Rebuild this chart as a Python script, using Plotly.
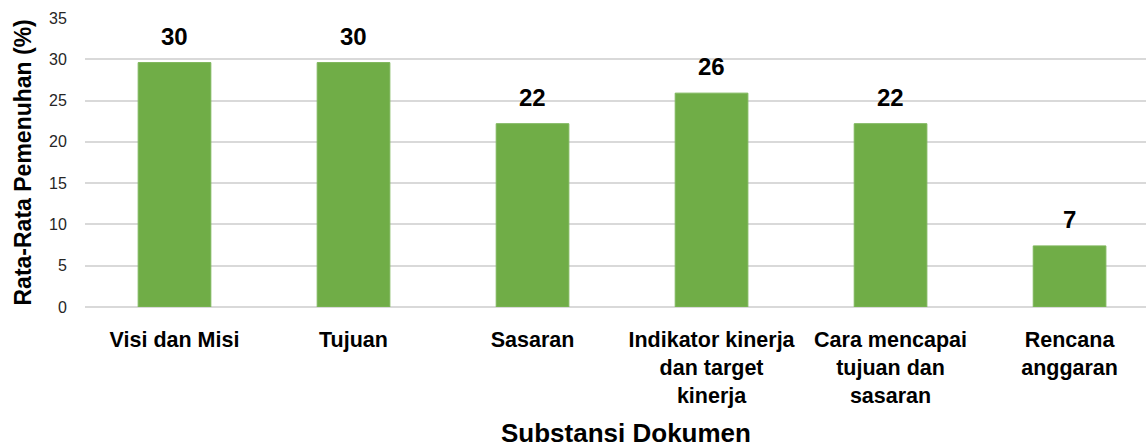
import plotly.graph_objects as go

categories = ["Visi dan Misi", "Tujuan", "Sasaran",
              "Indikator kinerja<br>dan target<br>kinerja",
              "Cara mencapai<br>tujuan dan<br>sasaran",
              "Rencana<br>anggaran"]
values = [29.6, 29.6, 22.2, 25.9, 22.2, 7.4]
y_ticks = [0, 5, 10, 15, 20, 25, 30, 35]
x_title = "Substansi Dokumen"
y_title = "Rata-Rata Pemenuhan (%)"

BOLD = "Liberation Sans, Arial, sans-serif"
NARROW = "Liberation Sans Narrow, Arial Narrow, Liberation Sans, Arial, sans-serif"

fig = go.Figure()
fig.add_trace(go.Bar(
    x=categories, y=values,
    marker=dict(color="#70AD47", line=dict(color="#7DB65A", width=1)),
    hoverinfo="x+y",
))

for c, v in zip(categories, values):
    fig.add_annotation(x=c, y=v, xref="x", yref="y", text=f"<b>{v:.0f}</b>",
                       showarrow=False, yanchor="bottom", yshift=11,
                       font=dict(family=BOLD, size=24, color="#000000"))

fig.add_annotation(x=(626 - 85) / 1061, y=(307 - 433) / 289, xref="paper", yref="paper",
                   text=f"<b>{x_title}</b>", showarrow=False,
                   xanchor="center", yanchor="middle",
                   font=dict(family=BOLD, size=26, color="#000000"))
fig.add_annotation(x=(22 - 85) / 1061, y=0.5, xref="paper", yref="paper",
                   text=f"<b>{y_title}</b>", showarrow=False, textangle=-90,
                   xanchor="center", yanchor="middle",
                   font=dict(family=BOLD, size=23, color="#000000"))

fig.update_layout(
    width=1146, height=448,
    margin=dict(l=85, r=0, t=18, b=141),
    plot_bgcolor="white", paper_bgcolor="white",
    bargap=0.594,
    showlegend=False,
    xaxis=dict(range=[-0.5, 5.427], showgrid=False, showline=False, zeroline=False,
               ticks="outside", ticklen=13, tickcolor="rgba(0,0,0,0)",
               tickfont=dict(family=NARROW, size=21.5, color="#000000", weight="bold"),
               tickangle=0, automargin=False),
    yaxis=dict(range=[0, 35], tickvals=y_ticks, showgrid=True, gridcolor="#D9D9D9",
               gridwidth=1.5, zeroline=True, zerolinecolor="#D9D9D9", zerolinewidth=1.5,
               showline=False, ticks="outside", ticklen=14, tickcolor="rgba(0,0,0,0)",
               tickfont=dict(family=BOLD, size=16, color="#262626"), automargin=False),
)

fig.write_html("out.html", config={"displayModeBar": False},
               post_script="document.body.style.margin='0';document.body.style.overflow='hidden';")
